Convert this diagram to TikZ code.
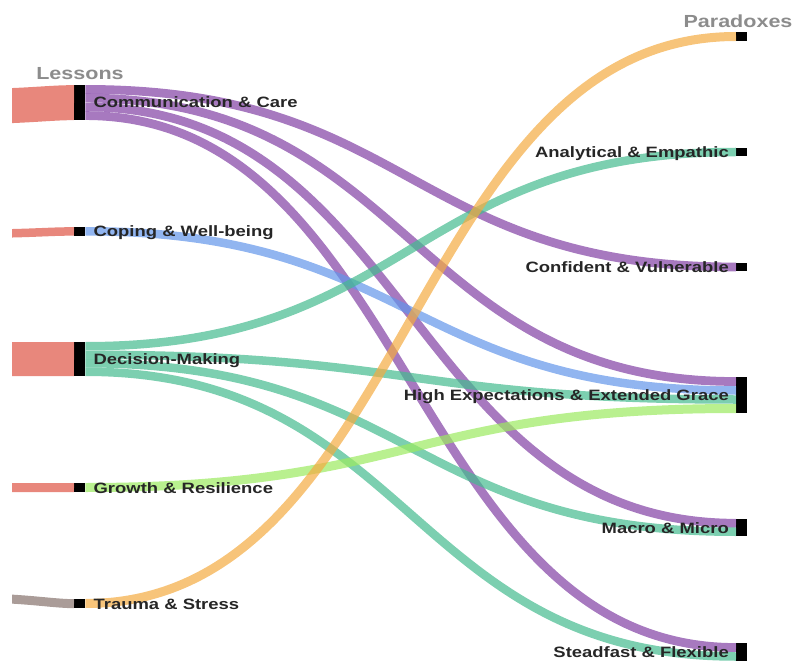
\documentclass[tikz,border=0pt]{standalone}
\usepackage{fontspec}
\setmainfont{Liberation Sans}[FakeStretch=1.23]
\usepackage{xcolor}
\usetikzlibrary{calc}
\definecolor{lkpurple}{RGB}{129,64,164}
\definecolor{lkteal}{RGB}{68,186,142}
\definecolor{lkblue}{RGB}{98,149,234}
\definecolor{lkgreen}{RGB}{155,234,95}
\definecolor{lkorange}{RGB}{244,171,65}
\definecolor{lksalmon}{RGB}{222,84,68}
\definecolor{lkgrey}{RGB}{134,114,108}
\newcommand{\sankeylink}[6]{%
  \draw[link, #1, line width=#6pt]
    ($(#2.north east)+(0,#3)$)
    .. controls ($(#2.north east)+(325.5,#3)$) and ($(#4.north west)+(-325.5,#5)$)
    .. ($(#4.north west)+(0,#5)$);}
\tikzset{
  bar/.style   ={fill=black, inner sep=0pt, minimum width=11pt, anchor=north west},
  link/.style  ={draw opacity=0.7},
  inflow/.style={draw opacity=0.7, lksalmon},
  lbl/.style   ={font=\fontsize{15}{17}\selectfont\bfseries, text=black!85, inner sep=0pt},
  head/.style  ={font=\fontsize{17.5}{20}\selectfont\bfseries, text=black!45, inner sep=0pt},
}
\begin{document}
\begin{tikzpicture}[x=1pt, y=-1pt]
  \useasboundingbox (0,0) rectangle (798,663);
  % lessons
  \node[bar, minimum height=35pt] (com) at (74,85) {};
  \node[bar, minimum height=8.5pt] (cop) at (74,227) {};
  \node[bar, minimum height=34pt] (dec) at (74,342) {};
  \node[bar, minimum height=9pt] (gro) at (74,483) {};
  \node[bar, minimum height=9pt] (tra) at (74,599) {};
  % paradoxes
  \node[bar, minimum height=9pt] (top) at (736,32) {};
  \node[bar, minimum height=8pt] (ana) at (736,148) {};
  \node[bar, minimum height=8pt] (con) at (736,263) {};
  \node[bar, minimum height=36pt] (hig) at (736,377) {};
  \node[bar, minimum height=17pt] (mac) at (736,519) {};
  \node[bar, minimum height=18pt] (ste) at (736,643) {};
  % incoming bands, cut at the left edge
  \coordinate (comIn) at (0,106);
  \coordinate (copIn) at (0,233.5);
  \coordinate (decIn) at (0,359);
  \coordinate (groIn) at (0,487.5);
  \coordinate (traIn) at (0,598.5);
  \begin{scope}
    \clip (12,0) rectangle (74,663);
    \draw[inflow, line width=35pt] (comIn) .. controls (35,105) and (55,102.5) .. (com.west);
    \draw[inflow, line width=8.5pt] (copIn) .. controls (35,233) and (55,231.25) .. (cop.west);
    \draw[inflow, line width=34pt] (decIn) -- (dec.west);
    \draw[inflow, line width=9pt] (groIn) -- (gro.west);
    \draw[inflow, lkgrey, line width=9pt] (traIn) .. controls (35,600) and (55,603.5) .. (tra.west);
  \end{scope}
  % links
  \sankeylink{lkpurple}{com}{4.4}{con}{4}{8.75}
  \sankeylink{lkpurple}{com}{13.1}{hig}{4.5}{8.75}
  \sankeylink{lkpurple}{com}{21.9}{mac}{4.25}{8.75}
  \sankeylink{lkpurple}{com}{30.6}{ste}{4.5}{8.75}
  \sankeylink{lkblue}{cop}{4.25}{hig}{13.5}{8.5}
  \sankeylink{lkteal}{dec}{4.25}{ana}{4}{8.5}
  \sankeylink{lkteal}{dec}{12.75}{hig}{22.5}{8.5}
  \sankeylink{lkteal}{dec}{21.25}{mac}{12.75}{8.5}
  \sankeylink{lkteal}{dec}{29.75}{ste}{13.5}{8.5}
  \sankeylink{lkgreen}{gro}{4.5}{hig}{31.5}{9}
  \sankeylink{lkorange}{tra}{4.5}{top}{4.5}{9}
  % labels
  \node[lbl, anchor=base west] (comL) at ([xshift=8pt, yshift=-5.3pt]com.east) {Communication \& Care};
  \node[lbl, anchor=base west] (copL) at ([xshift=8pt, yshift=-5.3pt]cop.east) {Coping \& Well-being};
  \node[lbl, anchor=base west] (decL) at ([xshift=8pt, yshift=-5.3pt]dec.east) {Decision-Making};
  \node[lbl, anchor=base west] (groL) at ([xshift=8pt, yshift=-5.3pt]gro.east) {Growth \& Resilience};
  \node[lbl, anchor=base west] (traL) at ([xshift=8pt, yshift=-5.3pt]tra.east) {Trauma \& Stress};
  \node[lbl, anchor=base east] (anaL) at ([xshift=-7pt, yshift=-5.3pt]ana.west) {Analytical \& Empathic};
  \node[lbl, anchor=base east] (conL) at ([xshift=-7pt, yshift=-5.3pt]con.west) {Confident \& Vulnerable};
  \node[lbl, anchor=base east] (higL) at ([xshift=-7pt, yshift=-5.3pt]hig.west) {High Expectations \& Extended Grace};
  \node[lbl, anchor=base east] (macL) at ([xshift=-7pt, yshift=-5.3pt]mac.west) {Macro \& Micro};
  \node[lbl, anchor=base east] (steL) at ([xshift=-7pt, yshift=-5.3pt]ste.west) {Steadfast \& Flexible};
  % column headers
  \node[head] (lessons) at (80,73.5) {Lessons};
  \node[head] (paradoxes) at (738,21) {Paradoxes};
\end{tikzpicture}
\end{document}
